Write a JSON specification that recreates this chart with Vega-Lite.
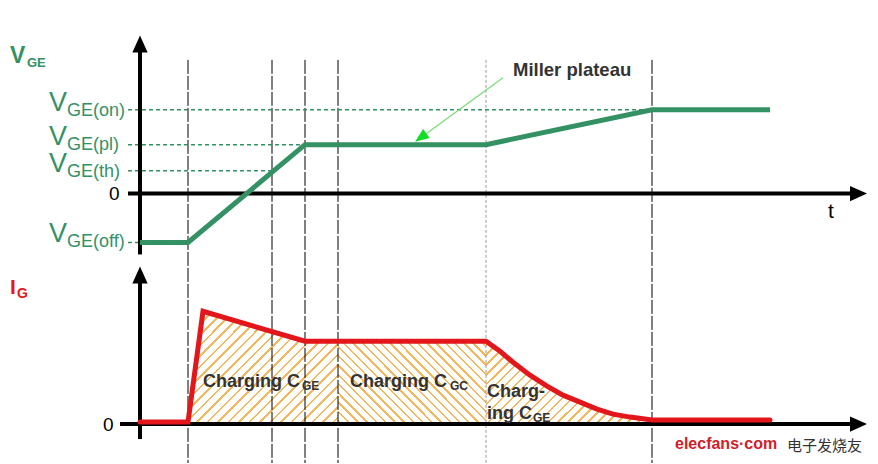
{
  "$schema": "https://vega.github.io/schema/vega-lite/v6.json",
  "width": 878,
  "height": 464,
  "autosize": {"type": "fit", "contains": "padding"},
  "padding": 0,
  "background": "white",
  "config": {"view": {"stroke": null}, "text": {"font": "Liberation Sans"}},
  "datasets": {
    "vge": [{"x":140,"y":243},{"x":188,"y":243},{"x":305,"y":145},{"x":486,"y":145},{"x":652,"y":110},{"x":770,"y":110}],
    "ig": [{"x":140,"y":423},{"x":188,"y":423},{"x":203,"y":312},{"x":305,"y":342},{"x":486,"y":342},{"x":500,"y":352},{"x":513,"y":363},{"x":530,"y":376},{"x":547,"y":387},{"x":563,"y":396},{"x":580,"y":403},{"x":597,"y":410},{"x":613,"y":415},{"x":630,"y":418},{"x":652,"y":421},{"x":770,"y":421}],
    "hatch": [
      {"seg":1,"x":188,"y":425},{"seg":1,"x":203,"y":312},{"seg":1,"x":305,"y":342},{"seg":1,"x":338,"y":342},
      {"seg":2,"x":338,"y":342},{"seg":2,"x":486,"y":342},
      {"seg":3,"x":486,"y":342},{"seg":3,"x":500,"y":352},{"seg":3,"x":513,"y":363},{"seg":3,"x":530,"y":376},{"seg":3,"x":547,"y":387},{"seg":3,"x":563,"y":396},{"seg":3,"x":580,"y":403},{"seg":3,"x":597,"y":410},{"seg":3,"x":613,"y":415},{"seg":3,"x":630,"y":418},{"seg":3,"x":652,"y":421}
    ],
    "vlines": [{"x":188,"y":60,"y2":464},{"x":272,"y":60,"y2":464},{"x":305,"y":60,"y2":464},{"x":338,"y":60,"y2":464},{"x":652,"y":60,"y2":464}],
    "glines": [{"x":128,"x2":652,"y":110},{"x":128,"x2":305,"y":145},{"x":128,"x2":272,"y":171},{"x":128,"x2":140,"y":243}],
    "axes": [{"x":140,"x2":140,"y":50,"y2":255},{"x":140,"x2":140,"y":280,"y2":440},{"x":128,"x2":852,"y":194,"y2":194},{"x":120,"x2":852,"y":425,"y2":425}],
    "arrows": [{"x":140,"y":44,"angle":0},{"x":140,"y":275.5,"angle":0},{"x":858.5,"y":194,"angle":90},{"x":858.5,"y":425,"angle":90}],
    "vbig": [{"x":49,"y":111,"t":"V"},{"x":49,"y":145,"t":"V"},{"x":49,"y":172,"t":"V"},{"x":49,"y":243,"t":"V"}],
    "vsub": [{"x":67,"y":116,"t":"GE(on)"},{"x":67,"y":150,"t":"GE(pl)"},{"x":67,"y":177,"t":"GE(th)"},{"x":67,"y":248,"t":"GE(off)"}],
    "zeros": [{"x":109,"y":200,"t":"0"},{"x":103,"y":432,"t":"0"}],
    "chbig": [{"x":203,"y":388,"t":"Charging C"},{"x":350,"y":388,"t":"Charging C"},{"x":487,"y":398,"t":"Charg-"},{"x":487,"y":420,"t":"ing C"}],
    "chsub": [{"x":302,"y":391,"t":"GE"},{"x":450,"y":391,"t":"GC"},{"x":533,"y":423,"t":"GE"}]
  },
  "encoding": {
    "x": {"field": "x", "type": "quantitative", "scale": {"domain": [0, 878], "nice": false, "zero": false}, "axis": null},
    "y": {"field": "y", "type": "quantitative", "scale": {"domain": [0, 464], "nice": false, "zero": false, "reverse": true}, "axis": null}
  },
  "layer": [
    {
      "data": {"name": "hatch"},
      "transform": [{"filter": "datum.seg == 1"}],
      "mark": {"type": "area", "stroke": null, "fill": {"gradient": "linear", "x1": 0, "y1": 0, "x2": 1.12, "y2": 0.84, "stops": [
        {"offset":0,"color":"white"},
        {"offset":0.01,"color":"white"},{"offset":0.01,"color":"#f2b860"},{"offset":0.02,"color":"#f2b860"},{"offset":0.02,"color":"white"},
        {"offset":0.05,"color":"white"},{"offset":0.05,"color":"#f2b860"},{"offset":0.06,"color":"#f2b860"},{"offset":0.06,"color":"white"},
        {"offset":0.09,"color":"white"},{"offset":0.09,"color":"#f2b860"},{"offset":0.10,"color":"#f2b860"},{"offset":0.10,"color":"white"},
        {"offset":0.13,"color":"white"},{"offset":0.13,"color":"#f2b860"},{"offset":0.14,"color":"#f2b860"},{"offset":0.14,"color":"white"},
        {"offset":0.17,"color":"white"},{"offset":0.17,"color":"#f2b860"},{"offset":0.18,"color":"#f2b860"},{"offset":0.18,"color":"white"},
        {"offset":0.21,"color":"white"},{"offset":0.21,"color":"#f2b860"},{"offset":0.22,"color":"#f2b860"},{"offset":0.22,"color":"white"},
        {"offset":0.25,"color":"white"},{"offset":0.25,"color":"#f2b860"},{"offset":0.26,"color":"#f2b860"},{"offset":0.26,"color":"white"},
        {"offset":0.29,"color":"white"},{"offset":0.29,"color":"#f2b860"},{"offset":0.30,"color":"#f2b860"},{"offset":0.30,"color":"white"},
        {"offset":0.33,"color":"white"},{"offset":0.33,"color":"#f2b860"},{"offset":0.34,"color":"#f2b860"},{"offset":0.34,"color":"white"},
        {"offset":0.37,"color":"white"},{"offset":0.37,"color":"#f2b860"},{"offset":0.38,"color":"#f2b860"},{"offset":0.38,"color":"white"},
        {"offset":0.41,"color":"white"},{"offset":0.41,"color":"#f2b860"},{"offset":0.42,"color":"#f2b860"},{"offset":0.42,"color":"white"},
        {"offset":0.45,"color":"white"},{"offset":0.45,"color":"#f2b860"},{"offset":0.46,"color":"#f2b860"},{"offset":0.46,"color":"white"},
        {"offset":0.49,"color":"white"},{"offset":0.49,"color":"#f2b860"},{"offset":0.50,"color":"#f2b860"},{"offset":0.50,"color":"white"},
        {"offset":0.53,"color":"white"},{"offset":0.53,"color":"#f2b860"},{"offset":0.54,"color":"#f2b860"},{"offset":0.54,"color":"white"},
        {"offset":0.57,"color":"white"},{"offset":0.57,"color":"#f2b860"},{"offset":0.58,"color":"#f2b860"},{"offset":0.58,"color":"white"},
        {"offset":0.61,"color":"white"},{"offset":0.61,"color":"#f2b860"},{"offset":0.62,"color":"#f2b860"},{"offset":0.62,"color":"white"},
        {"offset":0.65,"color":"white"},{"offset":0.65,"color":"#f2b860"},{"offset":0.66,"color":"#f2b860"},{"offset":0.66,"color":"white"},
        {"offset":0.69,"color":"white"},{"offset":0.69,"color":"#f2b860"},{"offset":0.70,"color":"#f2b860"},{"offset":0.70,"color":"white"},
        {"offset":0.73,"color":"white"},{"offset":0.73,"color":"#f2b860"},{"offset":0.74,"color":"#f2b860"},{"offset":0.74,"color":"white"},
        {"offset":0.77,"color":"white"},{"offset":0.77,"color":"#f2b860"},{"offset":0.78,"color":"#f2b860"},{"offset":0.78,"color":"white"},
        {"offset":0.81,"color":"white"},{"offset":0.81,"color":"#f2b860"},{"offset":0.82,"color":"#f2b860"},{"offset":0.82,"color":"white"},
        {"offset":0.85,"color":"white"},{"offset":0.85,"color":"#f2b860"},{"offset":0.86,"color":"#f2b860"},{"offset":0.86,"color":"white"},
        {"offset":0.89,"color":"white"},{"offset":0.89,"color":"#f2b860"},{"offset":0.90,"color":"#f2b860"},{"offset":0.90,"color":"white"},
        {"offset":0.93,"color":"white"},{"offset":0.93,"color":"#f2b860"},{"offset":0.94,"color":"#f2b860"},{"offset":0.94,"color":"white"},
        {"offset":0.97,"color":"white"},{"offset":0.97,"color":"#f2b860"},{"offset":0.98,"color":"#f2b860"},{"offset":0.98,"color":"white"},
        {"offset":1,"color":"white"}]}},
      "encoding": {"y2": {"datum": 425}}
    },
    {
      "data": {"name": "hatch"},
      "transform": [{"filter": "datum.seg == 2"}],
      "mark": {"type": "area", "stroke": null, "fill": {"gradient": "linear", "x1": 0, "y1": 1, "x2": 1.19, "y2": 0.335, "stops": [
        {"offset":0,"color":"white"},
        {"offset":0.01,"color":"white"},{"offset":0.01,"color":"#f2b860"},{"offset":0.02,"color":"#f2b860"},{"offset":0.02,"color":"white"},
        {"offset":0.05,"color":"white"},{"offset":0.05,"color":"#f2b860"},{"offset":0.06,"color":"#f2b860"},{"offset":0.06,"color":"white"},
        {"offset":0.09,"color":"white"},{"offset":0.09,"color":"#f2b860"},{"offset":0.10,"color":"#f2b860"},{"offset":0.10,"color":"white"},
        {"offset":0.13,"color":"white"},{"offset":0.13,"color":"#f2b860"},{"offset":0.14,"color":"#f2b860"},{"offset":0.14,"color":"white"},
        {"offset":0.17,"color":"white"},{"offset":0.17,"color":"#f2b860"},{"offset":0.18,"color":"#f2b860"},{"offset":0.18,"color":"white"},
        {"offset":0.21,"color":"white"},{"offset":0.21,"color":"#f2b860"},{"offset":0.22,"color":"#f2b860"},{"offset":0.22,"color":"white"},
        {"offset":0.25,"color":"white"},{"offset":0.25,"color":"#f2b860"},{"offset":0.26,"color":"#f2b860"},{"offset":0.26,"color":"white"},
        {"offset":0.29,"color":"white"},{"offset":0.29,"color":"#f2b860"},{"offset":0.30,"color":"#f2b860"},{"offset":0.30,"color":"white"},
        {"offset":0.33,"color":"white"},{"offset":0.33,"color":"#f2b860"},{"offset":0.34,"color":"#f2b860"},{"offset":0.34,"color":"white"},
        {"offset":0.37,"color":"white"},{"offset":0.37,"color":"#f2b860"},{"offset":0.38,"color":"#f2b860"},{"offset":0.38,"color":"white"},
        {"offset":0.41,"color":"white"},{"offset":0.41,"color":"#f2b860"},{"offset":0.42,"color":"#f2b860"},{"offset":0.42,"color":"white"},
        {"offset":0.45,"color":"white"},{"offset":0.45,"color":"#f2b860"},{"offset":0.46,"color":"#f2b860"},{"offset":0.46,"color":"white"},
        {"offset":0.49,"color":"white"},{"offset":0.49,"color":"#f2b860"},{"offset":0.50,"color":"#f2b860"},{"offset":0.50,"color":"white"},
        {"offset":0.53,"color":"white"},{"offset":0.53,"color":"#f2b860"},{"offset":0.54,"color":"#f2b860"},{"offset":0.54,"color":"white"},
        {"offset":0.57,"color":"white"},{"offset":0.57,"color":"#f2b860"},{"offset":0.58,"color":"#f2b860"},{"offset":0.58,"color":"white"},
        {"offset":0.61,"color":"white"},{"offset":0.61,"color":"#f2b860"},{"offset":0.62,"color":"#f2b860"},{"offset":0.62,"color":"white"},
        {"offset":0.65,"color":"white"},{"offset":0.65,"color":"#f2b860"},{"offset":0.66,"color":"#f2b860"},{"offset":0.66,"color":"white"},
        {"offset":0.69,"color":"white"},{"offset":0.69,"color":"#f2b860"},{"offset":0.70,"color":"#f2b860"},{"offset":0.70,"color":"white"},
        {"offset":0.73,"color":"white"},{"offset":0.73,"color":"#f2b860"},{"offset":0.74,"color":"#f2b860"},{"offset":0.74,"color":"white"},
        {"offset":0.77,"color":"white"},{"offset":0.77,"color":"#f2b860"},{"offset":0.78,"color":"#f2b860"},{"offset":0.78,"color":"white"},
        {"offset":0.81,"color":"white"},{"offset":0.81,"color":"#f2b860"},{"offset":0.82,"color":"#f2b860"},{"offset":0.82,"color":"white"},
        {"offset":0.85,"color":"white"},{"offset":0.85,"color":"#f2b860"},{"offset":0.86,"color":"#f2b860"},{"offset":0.86,"color":"white"},
        {"offset":0.89,"color":"white"},{"offset":0.89,"color":"#f2b860"},{"offset":0.90,"color":"#f2b860"},{"offset":0.90,"color":"white"},
        {"offset":0.93,"color":"white"},{"offset":0.93,"color":"#f2b860"},{"offset":0.94,"color":"#f2b860"},{"offset":0.94,"color":"white"},
        {"offset":0.97,"color":"white"},{"offset":0.97,"color":"#f2b860"},{"offset":0.98,"color":"#f2b860"},{"offset":0.98,"color":"white"},
        {"offset":1,"color":"white"}]}},
      "encoding": {"y2": {"datum": 425}}
    },
    {
      "data": {"name": "hatch"},
      "transform": [{"filter": "datum.seg == 3"}],
      "mark": {"type": "area", "stroke": null, "fill": {"gradient": "linear", "x1": 0, "y1": 0, "x2": 1.2, "y2": 0.6, "stops": [
        {"offset":0,"color":"white"},
        {"offset":0.01,"color":"white"},{"offset":0.01,"color":"#f2b860"},{"offset":0.02,"color":"#f2b860"},{"offset":0.02,"color":"white"},
        {"offset":0.05,"color":"white"},{"offset":0.05,"color":"#f2b860"},{"offset":0.06,"color":"#f2b860"},{"offset":0.06,"color":"white"},
        {"offset":0.09,"color":"white"},{"offset":0.09,"color":"#f2b860"},{"offset":0.10,"color":"#f2b860"},{"offset":0.10,"color":"white"},
        {"offset":0.13,"color":"white"},{"offset":0.13,"color":"#f2b860"},{"offset":0.14,"color":"#f2b860"},{"offset":0.14,"color":"white"},
        {"offset":0.17,"color":"white"},{"offset":0.17,"color":"#f2b860"},{"offset":0.18,"color":"#f2b860"},{"offset":0.18,"color":"white"},
        {"offset":0.21,"color":"white"},{"offset":0.21,"color":"#f2b860"},{"offset":0.22,"color":"#f2b860"},{"offset":0.22,"color":"white"},
        {"offset":0.25,"color":"white"},{"offset":0.25,"color":"#f2b860"},{"offset":0.26,"color":"#f2b860"},{"offset":0.26,"color":"white"},
        {"offset":0.29,"color":"white"},{"offset":0.29,"color":"#f2b860"},{"offset":0.30,"color":"#f2b860"},{"offset":0.30,"color":"white"},
        {"offset":0.33,"color":"white"},{"offset":0.33,"color":"#f2b860"},{"offset":0.34,"color":"#f2b860"},{"offset":0.34,"color":"white"},
        {"offset":0.37,"color":"white"},{"offset":0.37,"color":"#f2b860"},{"offset":0.38,"color":"#f2b860"},{"offset":0.38,"color":"white"},
        {"offset":0.41,"color":"white"},{"offset":0.41,"color":"#f2b860"},{"offset":0.42,"color":"#f2b860"},{"offset":0.42,"color":"white"},
        {"offset":0.45,"color":"white"},{"offset":0.45,"color":"#f2b860"},{"offset":0.46,"color":"#f2b860"},{"offset":0.46,"color":"white"},
        {"offset":0.49,"color":"white"},{"offset":0.49,"color":"#f2b860"},{"offset":0.50,"color":"#f2b860"},{"offset":0.50,"color":"white"},
        {"offset":0.53,"color":"white"},{"offset":0.53,"color":"#f2b860"},{"offset":0.54,"color":"#f2b860"},{"offset":0.54,"color":"white"},
        {"offset":0.57,"color":"white"},{"offset":0.57,"color":"#f2b860"},{"offset":0.58,"color":"#f2b860"},{"offset":0.58,"color":"white"},
        {"offset":0.61,"color":"white"},{"offset":0.61,"color":"#f2b860"},{"offset":0.62,"color":"#f2b860"},{"offset":0.62,"color":"white"},
        {"offset":0.65,"color":"white"},{"offset":0.65,"color":"#f2b860"},{"offset":0.66,"color":"#f2b860"},{"offset":0.66,"color":"white"},
        {"offset":0.69,"color":"white"},{"offset":0.69,"color":"#f2b860"},{"offset":0.70,"color":"#f2b860"},{"offset":0.70,"color":"white"},
        {"offset":0.73,"color":"white"},{"offset":0.73,"color":"#f2b860"},{"offset":0.74,"color":"#f2b860"},{"offset":0.74,"color":"white"},
        {"offset":0.77,"color":"white"},{"offset":0.77,"color":"#f2b860"},{"offset":0.78,"color":"#f2b860"},{"offset":0.78,"color":"white"},
        {"offset":0.81,"color":"white"},{"offset":0.81,"color":"#f2b860"},{"offset":0.82,"color":"#f2b860"},{"offset":0.82,"color":"white"},
        {"offset":0.85,"color":"white"},{"offset":0.85,"color":"#f2b860"},{"offset":0.86,"color":"#f2b860"},{"offset":0.86,"color":"white"},
        {"offset":0.89,"color":"white"},{"offset":0.89,"color":"#f2b860"},{"offset":0.90,"color":"#f2b860"},{"offset":0.90,"color":"white"},
        {"offset":0.93,"color":"white"},{"offset":0.93,"color":"#f2b860"},{"offset":0.94,"color":"#f2b860"},{"offset":0.94,"color":"white"},
        {"offset":0.97,"color":"white"},{"offset":0.97,"color":"#f2b860"},{"offset":0.98,"color":"#f2b860"},{"offset":0.98,"color":"white"},
        {"offset":1,"color":"white"}]}},
      "encoding": {"y2": {"datum": 425}}
    },
    {
      "data": {"name": "vlines"},
      "mark": {"type": "rule", "color": "black", "strokeWidth": 1, "strokeDash": [14, 2]},
      "encoding": {"y2": {"field": "y2"}}
    },
    {
      "data": {"values": [{"x": 486, "y": 60, "y2": 464}]},
      "mark": {"type": "rule", "color": "#9a9a9a", "strokeWidth": 1, "strokeDash": [3, 2]},
      "encoding": {"y2": {"field": "y2"}}
    },
    {
      "data": {"name": "glines"},
      "mark": {"type": "rule", "color": "#349164", "strokeWidth": 1.5, "strokeDash": [4, 3]},
      "encoding": {"x2": {"field": "x2"}}
    },
    {
      "data": {"name": "axes"},
      "mark": {"type": "rule", "color": "black", "strokeWidth": 4},
      "encoding": {"x2": {"field": "x2"}, "y2": {"field": "y2"}}
    },
    {
      "data": {"name": "arrows"},
      "mark": {"type": "point", "shape": "M-0.9,1L0,-1L0.9,1Z", "filled": true, "color": "black", "opacity": 1, "size": 289},
      "encoding": {"angle": {"field": "angle", "type": "quantitative", "scale": null}}
    },
    {
      "data": {"name": "vge"},
      "mark": {"type": "line", "color": "#349164", "strokeWidth": 5, "strokeJoin": "miter", "strokeCap": "butt"}
    },
    {
      "data": {"name": "ig"},
      "mark": {"type": "line", "color": "#e3161b", "strokeWidth": 5, "strokeJoin": "miter", "strokeCap": "round"}
    },
    {
      "data": {"values": [{"x": 503, "y": 78, "x2": 420, "y2": 138.5}]},
      "mark": {"type": "rule", "color": "#77dd77", "strokeWidth": 1.2},
      "encoding": {"x2": {"field": "x2"}, "y2": {"field": "y2"}}
    },
    {
      "data": {"values": [{"x": 420.7, "y": 137.9}]},
      "mark": {"type": "point", "shape": "M-0.8,1L0,-1L0.8,1Z", "filled": true, "color": "#11dd22", "opacity": 1, "size": 196, "angle": 234}
    },
    {
      "data": {"values": [{"x": 513, "y": 76, "t": "Miller plateau"}]},
      "mark": {"type": "text", "align": "left", "baseline": "alphabetic", "fontSize": 18.5, "fontWeight": "bold", "color": "#333333"},
      "encoding": {"text": {"field": "t"}}
    },
    {
      "data": {"name": "vbig"},
      "mark": {"type": "text", "align": "left", "baseline": "alphabetic", "fontSize": 27, "color": "#349164"},
      "encoding": {"text": {"field": "t"}}
    },
    {
      "data": {"name": "vsub"},
      "mark": {"type": "text", "align": "left", "baseline": "alphabetic", "fontSize": 18, "color": "#349164"},
      "encoding": {"text": {"field": "t"}}
    },
    {
      "data": {"name": "zeros"},
      "mark": {"type": "text", "align": "left", "baseline": "alphabetic", "fontSize": 19, "color": "black"},
      "encoding": {"text": {"field": "t"}}
    },
    {
      "data": {"values": [{"x": 828, "y": 218, "t": "t"}]},
      "mark": {"type": "text", "align": "left", "baseline": "alphabetic", "fontSize": 21, "color": "black"},
      "encoding": {"text": {"field": "t"}}
    },
    {
      "data": {"values": [{"x": 10, "y": 63, "t": "V"}]},
      "mark": {"type": "text", "align": "left", "baseline": "alphabetic", "fontSize": 23, "fontWeight": "bold", "color": "#349164"},
      "encoding": {"text": {"field": "t"}}
    },
    {
      "data": {"values": [{"x": 27, "y": 67, "t": "GE"}]},
      "mark": {"type": "text", "align": "left", "baseline": "alphabetic", "fontSize": 13, "fontWeight": "bold", "color": "#349164"},
      "encoding": {"text": {"field": "t"}}
    },
    {
      "data": {"values": [{"x": 10, "y": 295, "t": "I"}]},
      "mark": {"type": "text", "align": "left", "baseline": "alphabetic", "fontSize": 21, "fontWeight": "bold", "color": "#e3161b"},
      "encoding": {"text": {"field": "t"}}
    },
    {
      "data": {"values": [{"x": 17, "y": 299, "t": "G"}]},
      "mark": {"type": "text", "align": "left", "baseline": "alphabetic", "fontSize": 14, "fontWeight": "bold", "color": "#e3161b"},
      "encoding": {"text": {"field": "t"}}
    },
    {
      "data": {"name": "chbig"},
      "mark": {"type": "text", "align": "left", "baseline": "alphabetic", "fontSize": 18, "fontWeight": "bold", "color": "#333333"},
      "encoding": {"text": {"field": "t"}}
    },
    {
      "data": {"name": "chsub"},
      "mark": {"type": "text", "align": "left", "baseline": "alphabetic", "fontSize": 12, "fontWeight": "bold", "color": "#333333"},
      "encoding": {"text": {"field": "t"}}
    },
    {
      "data": {"values": [{"x": 675, "y": 450, "t": "elecfans·com"}]},
      "mark": {"type": "text", "align": "left", "baseline": "alphabetic", "fontSize": 16, "fontWeight": "bold", "color": "#d0202a"},
      "encoding": {"text": {"field": "t"}}
    },
    {
      "data": {"values": [{"x": 787, "y": 452, "t": "电子发烧友"}]},
      "mark": {"type": "text", "align": "left", "baseline": "alphabetic", "fontSize": 15, "font": "Noto Sans CJK SC", "color": "#333333"},
      "encoding": {"text": {"field": "t"}}
    }
  ]
}
